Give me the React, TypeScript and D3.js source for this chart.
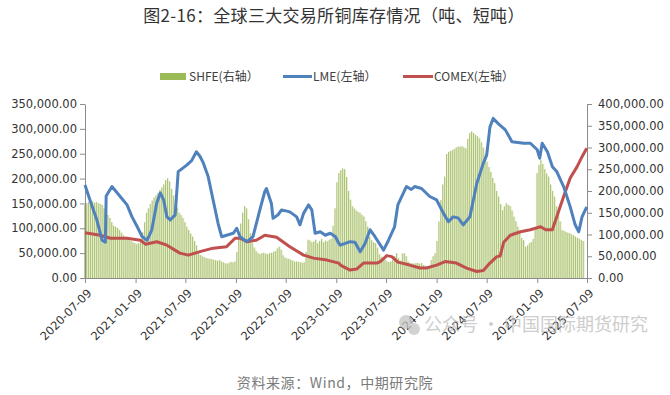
import React, { useEffect, useRef } from "react";
import * as d3 from "d3";

// SHFE weekly stocks, thousand tonnes (right axis), first week 2020-07-10
const shfeStart = "2020-07-10";
const shfeValues = [
  168, 172, 175, 174, 176, 173, 175, 172, 170, 168,
  160, 152, 145, 138, 128, 120, 118, 115, 110, 104,
  98, 95, 92, 88, 85, 82, 80, 78, 80, 82,
  105, 128, 150, 160, 170, 178, 185, 190, 196, 202,
  208, 215, 225, 229, 222, 205, 190, 172, 162, 150,
  145, 138, 128, 118, 110, 102, 95, 85, 75, 62,
  53, 50, 48, 46, 45, 44, 43, 42, 41, 40,
  41, 38, 36, 34, 33, 35, 37, 36, 38, 60,
  95, 125, 150, 165, 160, 135, 103, 80, 70, 62,
  57, 55, 57, 58, 56, 55, 57, 58, 60, 62,
  68, 72, 65, 52, 47, 45, 44, 42, 40, 38,
  38, 37, 36, 35, 36, 60, 88, 86, 82, 84,
  88, 80, 85, 90, 82, 86, 84, 88, 90, 120,
  160, 220, 241, 248, 252, 250, 232, 200, 180, 165,
  160, 155, 152, 150, 145, 141, 130, 118, 95, 87,
  82, 80, 70, 55, 49, 45, 42, 38, 37, 38,
  42, 50, 57, 45, 40, 56, 57, 50, 38, 34,
  34, 33, 34, 35, 33, 34, 30, 28, 26, 27,
  41, 50, 57, 85, 130, 179, 215, 233, 285, 290,
  292, 294, 297, 300, 302, 302, 303, 300, 298, 320,
  333, 337, 333, 329, 326, 321, 312, 300, 285, 267,
  255, 244, 230, 218, 200, 187, 170, 156, 165, 172,
  168, 165, 155, 141, 130, 118, 105, 92, 87, 72,
  75, 80, 83, 90, 110, 241, 260, 271, 262, 250,
  240, 233, 215, 200, 187, 165, 149, 130, 110, 108,
  106, 104, 103, 100, 98, 95, 92, 90, 87, 85,
];

// LME stocks, thousand tonnes (left axis)
const lmeDates = [
  "2020-07-09", "2020-07-27", "2020-08-21", "2020-09-09", "2020-09-21", "2020-09-24", "2020-10-15",
  "2020-11-14", "2020-12-09", "2020-12-27", "2021-01-15", "2021-02-02", "2021-02-20", "2021-03-09",
  "2021-03-27", "2021-04-09", "2021-04-21", "2021-05-03", "2021-05-15", "2021-06-02", "2021-06-13",
  "2021-07-14", "2021-08-01", "2021-08-18", "2021-08-31", "2021-09-12", "2021-09-30", "2021-10-18",
  "2021-11-05", "2021-11-18", "2021-12-06", "2021-12-30", "2022-01-12", "2022-01-24", "2022-02-18",
  "2022-03-12", "2022-04-06", "2022-04-24", "2022-04-30", "2022-05-18", "2022-05-24", "2022-06-11",
  "2022-06-24", "2022-07-24", "2022-08-18", "2022-08-30", "2022-09-12", "2022-09-30", "2022-10-12",
  "2022-10-24", "2022-11-12", "2022-11-30", "2022-12-18", "2023-01-06", "2023-01-18", "2023-01-24",
  "2023-02-28", "2023-03-18", "2023-04-06", "2023-04-24", "2023-05-12", "2023-05-30", "2023-06-30",
  "2023-07-18", "2023-08-09", "2023-08-21", "2023-09-21", "2023-10-09", "2023-10-21", "2023-11-15",
  "2023-12-15", "2024-01-09", "2024-02-03", "2024-02-21", "2024-03-09", "2024-03-27", "2024-04-15",
  "2024-05-09", "2024-06-03", "2024-06-27", "2024-07-09", "2024-07-21", "2024-08-02", "2024-08-21",
  "2024-09-15", "2024-10-09", "2024-11-21", "2024-12-15", "2025-01-09", "2025-01-18", "2025-01-27",
  "2025-02-15", "2025-03-05", "2025-03-21", "2025-04-15", "2025-05-09", "2025-05-27", "2025-06-09",
  "2025-06-21", "2025-07-08",
];
const lmeValues = [
  187, 157, 117, 76, 72, 165, 184,
  164, 147, 123, 103, 83, 76, 97,
  151, 171, 157, 123, 117, 127, 214,
  227, 236, 254, 245, 232, 204, 157,
  110, 83, 86, 90, 100, 83, 73,
  83, 137, 174, 180, 150, 120, 127,
  137, 133, 123, 107, 130, 147, 137,
  90, 93, 86, 90, 83, 70, 66,
  73, 72, 53, 70, 97, 83, 56,
  76, 103, 147, 184, 178, 184, 180,
  164, 157, 130, 113, 123, 121, 107,
  123, 190, 231, 247, 304, 321, 310,
  298, 274, 271, 271, 258, 241, 271,
  254, 224, 214, 184, 143, 107, 93,
  123, 143,
];

// COMEX stocks, thousand short tons (left axis)
const comexDates = [
  "2020-07-09", "2020-09-02", "2020-10-09", "2020-12-09", "2021-01-27", "2021-02-14", "2021-03-27",
  "2021-05-03", "2021-06-19", "2021-07-20", "2021-08-31", "2021-10-18", "2021-12-06", "2022-01-06",
  "2022-01-24", "2022-02-18", "2022-03-24", "2022-04-24", "2022-06-06", "2022-07-24", "2022-09-12",
  "2022-10-18", "2022-12-06", "2023-01-18", "2023-01-24", "2023-02-28", "2023-03-24", "2023-04-18",
  "2023-06-06", "2023-06-18", "2023-07-12", "2023-07-30", "2023-08-21", "2023-10-03", "2023-11-09",
  "2023-12-03", "2024-01-09", "2024-02-09", "2024-03-21", "2024-04-27", "2024-06-03", "2024-06-27",
  "2024-07-21", "2024-08-15", "2024-08-27", "2024-09-09", "2024-10-03", "2024-11-09", "2024-12-15",
  "2025-01-21", "2025-02-09", "2025-03-05", "2025-03-21", "2025-04-15", "2025-05-09", "2025-06-03",
  "2025-06-21", "2025-07-08",
];
const comexValues = [
  91, 86, 80, 80, 76, 68, 73,
  66, 50, 46, 53, 60, 63, 80,
  80, 73, 76, 86, 82, 63, 46,
  40, 36, 30, 26, 16, 18, 30,
  30, 33, 45, 43, 32, 26, 20,
  20, 26, 33, 30, 20, 13, 15,
  30, 43, 44, 72, 86, 93, 97,
  103, 97, 97, 123, 164, 201, 224,
  244, 261,
];

const xTickLabels = [
  "2020-07-09", "2021-01-09", "2021-07-09", "2022-01-09", "2022-07-09", "2023-01-09",
  "2023-07-09", "2024-01-09", "2024-07-09", "2025-01-09", "2025-07-09",
];
const leftTicks = [0, 50000, 100000, 150000, 200000, 250000, 300000, 350000];
const rightTicks = [0, 50000, 100000, 150000, 200000, 250000, 300000, 350000, 400000];

function CopperStocks() {
  const chart = useRef<SVGSVGElement>(null);

  useEffect(() => {
    const svg = d3.select(chart.current);
    const left = 85, right = 587, top = 104, bottom = 278;
    const parse = d3.timeParse("%Y-%m-%d");
    const axisFont = "'DejaVu Sans', sans-serif";
    const cjkFont = "'Noto Sans CJK SC', sans-serif";

    const x = d3.scaleTime()
      .domain([parse("2020-07-09")!, parse("2025-07-09")!])
      .range([left, right]);
    const yL = d3.scaleLinear().domain([0, 350000]).range([bottom, top]);
    const yR = d3.scaleLinear().domain([0, 400000]).range([bottom, top]);

    // title
    svg.append("text")
      .attr("x", 334).attr("y", 22)
      .attr("text-anchor", "middle")
      .attr("font-family", cjkFont)
      .attr("font-size", 17)
      .attr("letter-spacing", 0.3)
      .attr("fill", "#333")
      .text("图2-16：全球三大交易所铜库存情况（吨、短吨）");

    // legend
    const legend = svg.append("g")
      .attr("font-family", cjkFont)
      .attr("font-size", 12)
      .attr("fill", "#404040");
    legend.append("rect").attr("x", 160).attr("y", 73).attr("width", 26).attr("height", 7).attr("fill", "#9bbb59");
    legend.append("text").attr("x", 189).attr("y", 81).text("SHFE(右轴）");
    legend.append("line").attr("x1", 283).attr("x2", 312).attr("y1", 76.5).attr("y2", 76.5)
      .attr("stroke", "#4f81bd").attr("stroke-width", 3);
    legend.append("text").attr("x", 313).attr("y", 81).text("LME(左轴）");
    legend.append("line").attr("x1", 403).attr("x2", 433).attr("y1", 76.5).attr("y2", 76.5)
      .attr("stroke", "#c0504d").attr("stroke-width", 3);
    legend.append("text").attr("x", 434).attr("y", 81).text("COMEX(左轴）");

    // SHFE bars: pale column with a darker edge line, like the thin Excel columns
    const start = parse(shfeStart)!;
    const shfe = shfeValues.map((v, i) => ({ date: d3.timeDay.offset(start, i * 7), value: v * 1000 }));
    const step = x(d3.timeDay.offset(start, 7)) - x(start);
    const bars = svg.append("g");
    bars.selectAll(".bar-fill")
      .data(shfe)
      .enter()
      .append("rect")
        .attr("class", "bar-fill")
        .attr("x", d => x(d.date) - step / 2)
        .attr("y", d => yR(d.value))
        .attr("width", step)
        .attr("height", d => bottom - yR(d.value))
        .attr("fill", "#e9efd3");
    bars.selectAll(".bar-edge")
      .data(shfe)
      .enter()
      .append("rect")
        .attr("class", "bar-edge")
        .attr("x", d => x(d.date) - step / 2)
        .attr("y", d => yR(d.value))
        .attr("width", 0.9)
        .attr("height", d => bottom - yR(d.value))
        .attr("fill", "#a6bf6c");

    // axes
    const fmt = d3.format(",.2f");
    const leftAxis = svg.append("g")
      .attr("transform", `translate(${left},0)`)
      .call(d3.axisLeft(yL).tickValues(leftTicks).tickFormat(d => fmt(d as number)).tickSize(5).tickSizeOuter(0).tickPadding(3));
    const rightAxis = svg.append("g")
      .attr("transform", `translate(${right},0)`)
      .call(d3.axisRight(yR).tickValues(rightTicks).tickFormat(d => fmt(d as number)).tickSize(5).tickSizeOuter(0).tickPadding(6));
    const bottomAxis = svg.append("g")
      .attr("transform", `translate(0,${bottom})`)
      .call(d3.axisBottom(x).tickValues(xTickLabels.map(s => parse(s)!)).tickFormat(d3.timeFormat("%Y-%m-%d") as any).tickSize(5).tickSizeOuter(0));

    [leftAxis, rightAxis, bottomAxis].forEach(g => {
      g.selectAll("path").attr("stroke", "#8c8c8c");
      g.selectAll("line").attr("stroke", "#8c8c8c");
      g.selectAll("text").attr("fill", "#333").attr("font-family", axisFont).attr("font-size", 11.5);
    });
    bottomAxis.selectAll("text")
      .attr("font-size", 11.5)
      .attr("x", 0).attr("y", 0).attr("dy", "0.35em")
      .attr("text-anchor", "end")
      .attr("transform", "translate(4,13) rotate(-45)");

    // lines
    const line = d3.line<[Date, number]>()
      .x(d => x(d[0]))
      .y(d => yL(d[1]));
    const lme = lmeDates.map((s, i) => [parse(s)!, lmeValues[i] * 1000] as [Date, number]);
    const comex = comexDates.map((s, i) => [parse(s)!, comexValues[i] * 1000] as [Date, number]);
    svg.append("path").datum(comex)
      .attr("d", line)
      .attr("fill", "none").attr("stroke", "#c0504d").attr("stroke-width", 3).attr("stroke-linejoin", "round");
    svg.append("path").datum(lme)
      .attr("d", line)
      .attr("fill", "none").attr("stroke", "#4f81bd").attr("stroke-width", 3).attr("stroke-linejoin", "round");

    // watermark
    const wm = svg.append("g").attr("opacity", 0.75);
    wm.append("circle").attr("cx", 406).attr("cy", 322).attr("r", 7).attr("fill", "#c4c4c4");
    wm.append("circle").attr("cx", 414).attr("cy", 329).attr("r", 6).attr("fill", "#c4c4c4");
    wm.append("text")
      .attr("x", 424).attr("y", 331)
      .attr("font-family", cjkFont)
      .attr("font-size", 18)
      .attr("fill", "#bdbdbd")
      .text("公众号 · 中国国际期货研究");

    // source
    svg.append("text")
      .attr("x", 335).attr("y", 388)
      .attr("text-anchor", "middle")
      .attr("font-family", cjkFont)
      .attr("font-size", 14)
      .attr("letter-spacing", 0.6)
      .attr("fill", "#7a7a7a")
      .text("资料来源：Wind，中期研究院");

    return () => {
      svg.selectAll("*").remove();
    };
  }, []);

  return (
    <svg ref={chart} width={670} height={395}
      style={{ position: "absolute", left: 0, top: 0, background: "#fff" }} />
  );
}

export default function App() {
  return <CopperStocks />;
}
